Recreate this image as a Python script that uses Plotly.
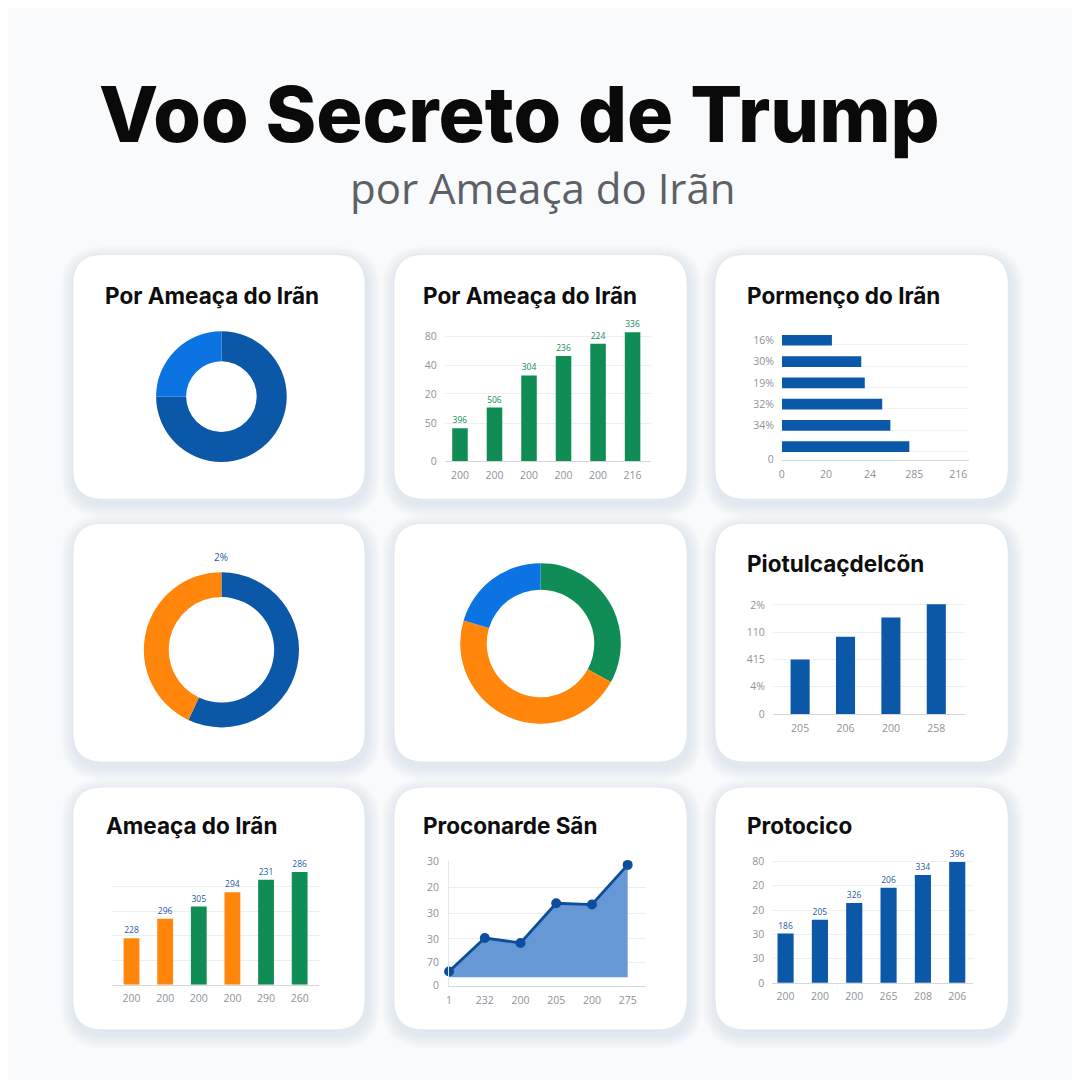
import plotly.graph_objects as go

W = H = 1080
# empirical page-to-screen compensation (body margin / viewport fit)
OFFX, SCX = 8.0, 1080.0
OFFY, SCY = 14.4, 1067.8

# ---------------- DATA ----------------
main_title = "Voo Secreto de Trump"
main_subtitle = "por Ameaça do Irãn"

card_titles = ["Por Ameaça do Irãn", "Por Ameaça do Irãn", "Pormenço do Irãn",
               "", "", "Piotulcaçdelcõn",
               "Ameaça do Irãn", "Proconarde Sãn", "Protocico"]

# Panel 1 donut
donut1_labels = ["A", "B"]
donut1_values = [75, 25]

# Panel 2 green bars
bars2_xlabels = ["200", "200", "200", "200", "200", "216"]
bars2_values = [20.9, 34.2, 54.8, 67.2, 75.1, 82.4]
bars2_text = ["396", "506", "304", "236", "224", "336"]
bars2_ytickvals = [0, 24, 43, 61, 80]
bars2_yticktext = ["0", "50", "20", "40", "80"]

# Panel 3 horizontal bars (top to bottom)
hbar3_values = [22.7, 36.0, 37.6, 45.5, 49.2, 57.8]
hbar3_ylabels = ["16%", "30%", "19%", "32%", "34%", ""]
hbar3_xtickvals = [0, 20, 40, 60, 80]
hbar3_xticktext = ["0", "20", "24", "285", "216"]

# Panel 4 donut
donut4_labels = ["A", "B"]
donut4_values = [57, 43]
donut4_label = "2%"

# Panel 5 donut
donut5_labels = ["A", "B", "C"]
donut5_values = [33, 46.6, 20.4]

# Panel 6 blue bars
bars6_xlabels = ["205", "206", "200", "258"]
bars6_values = [20.0, 28.3, 35.4, 40.3]
bars6_ytickvals = [0, 10, 20, 30, 40]
bars6_yticktext = ["0", "4%", "415", "110", "2%"]

# Panel 7 mixed bars
bars7_xlabels = ["200", "200", "200", "200", "290", "260"]
bars7_values = [38.0, 53.7, 63.7, 75.4, 85.6, 91.9]
bars7_text = ["228", "296", "305", "294", "231", "286"]
bars7_group = ["o", "o", "g", "o", "g", "g"]

# Panel 8 area
area8_xlabels = ["1", "232", "200", "205", "200", "275"]
area8_values = [2.3, 15.8, 13.8, 29.8, 29.3, 45.3]
area8_ytickvals = [-3.4, 5.8, 15.4, 25.6, 36.1, 46.6]
area8_yticktext = ["0", "70", "30", "30", "20", "30"]

# Panel 9 blue bars
bars9_xlabels = ["200", "200", "200", "265", "208", "206"]
bars9_values = [40.6, 51.9, 65.8, 78.4, 88.9, 99.6]
bars9_text = ["186", "205", "326", "206", "334", "396"]
bars9_ytickvals = [0, 20, 40, 60, 80, 100]
bars9_yticktext = ["0", "30", "30", "20", "20", "80"]

# ---------------- STYLE ----------------
DARK_BLUE = "#0b58a8"
LIGHT_BLUE = "#0b74e2"
GREEN = "#0f8d55"
ORANGE = "#ff860b"
LABEL_BLUE = "#1f58a5"
TICK = "#8e9399"
GRID = "#eceef2"
AXIS = "#d3d7dc"
FONT = "Inter"
TFONT = "Open Sans"


def fx(px):
    return (px - OFFX) / SCX


def fy(py):
    return 1 - (py - OFFY) / SCY


def rounded(x0, y0, x1, y1, r):
    pts = [
        f"M {fx(x0 + r)},{fy(y0)}",
        f"L {fx(x1 - r)},{fy(y0)}",
        f"Q {fx(x1)},{fy(y0)} {fx(x1)},{fy(y0 + r)}",
        f"L {fx(x1)},{fy(y1 - r)}",
        f"Q {fx(x1)},{fy(y1)} {fx(x1 - r)},{fy(y1)}",
        f"L {fx(x0 + r)},{fy(y1)}",
        f"Q {fx(x0)},{fy(y1)} {fx(x0)},{fy(y1 - r)}",
        f"L {fx(x0)},{fy(y0 + r)}",
        f"Q {fx(x0)},{fy(y0)} {fx(x0 + r)},{fy(y0)}",
        "Z",
    ]
    return " ".join(pts)


cards = [(70, 255, 363, 500), (392, 255, 686, 500), (714, 255, 1008, 500),
         (70, 524, 363, 763), (392, 524, 686, 763), (714, 524, 1008, 763),
         (70, 788, 363, 1031), (392, 788, 686, 1031), (714, 788, 1008, 1031)]

shapes = []
for (x0, y0, x1, y1) in cards:
    for i in range(6, 0, -1):
        e = i * 2.2
        shapes.append(dict(type="path", xref="paper", yref="paper",
                           path=rounded(x0 - e + 1, y0 - e + 5, x1 + e + 2, y1 + e + 5, 30 + e),
                           fillcolor="rgba(110,130,165,0.028)", line=dict(width=0), layer="below"))
    shapes.append(dict(type="path", xref="paper", yref="paper",
                       path=rounded(x0, y0, x1, y1, 30),
                       fillcolor="#ffffff", line=dict(color="rgba(222,226,232,0.7)", width=1),
                       layer="below"))

fig = go.Figure()


# ---- Donuts ----
def donut(values, labels, colors, cx, cy, R, hole):
    fig.add_trace(go.Pie(values=values, labels=labels, hole=hole, sort=False,
                         direction="clockwise", rotation=0,
                         marker=dict(colors=colors, line=dict(width=0)),
                         textinfo="none", hoverinfo="skip", showlegend=False,
                         domain=dict(x=[fx(cx - R), fx(cx + R)], y=[fy(cy + R), fy(cy - R)])))


donut(donut1_values, donut1_labels, [DARK_BLUE, LIGHT_BLUE], 219, 397.3, 65.5, 0.54)
donut(donut4_values, donut4_labels, [DARK_BLUE, ORANGE], 219, 650.7, 77.8, 0.68)
donut(donut5_values, donut5_labels, [GREEN, ORANGE, LIGHT_BLUE], 539, 644.3, 80.5, 0.67)

tickfont = dict(family=TFONT, size=10.5, color=TICK)
barfont = dict(family=TFONT, size=8.5)


def set_axes(n, xdom, ydom, xrange, yrange, xtv, xtt, ytv, ytt, xgrid=False, ygrid=True,
             yline=False, showy=True):
    xa = dict(domain=[fx(xdom[0]), fx(xdom[1])], range=xrange, tickmode="array",
              tickvals=xtv, ticktext=xtt, showgrid=xgrid, gridcolor=GRID, zeroline=False,
              showline=True, linecolor=AXIS, linewidth=1, ticks="", tickfont=tickfont,
              anchor=f"y{n}", fixedrange=True, ticklabelstandoff=4)
    ya = dict(domain=[fy(ydom[0]), fy(ydom[1])], range=yrange, tickmode="array",
              tickvals=ytv, ticktext=ytt, showgrid=ygrid, gridcolor=GRID, gridwidth=1,
              zeroline=False, showline=yline, linecolor="#e3e6ea", ticks="",
              tickfont=tickfont, anchor=f"x{n}", fixedrange=True, showticklabels=showy,
              ticklabelstandoff=7)
    fig.layout[f"xaxis{n}"] = xa
    fig.layout[f"yaxis{n}"] = ya


# ---- Panel 2: green bars ----
idx2 = list(range(len(bars2_values)))
fig.add_trace(go.Bar(x=idx2, y=bars2_values, text=bars2_text, textposition="outside",
                     textfont=dict(barfont, color=GREEN), marker=dict(color=GREEN, line=dict(width=0)),
                     width=0.45, cliponaxis=False, xaxis="x1", yaxis="y1", hoverinfo="skip",
                     showlegend=False))
set_axes(1, (443, 650), (461.7, 330.5), [-0.44, 5.54], [0, 84], idx2, bars2_xlabels,
         bars2_ytickvals, bars2_yticktext)

# ---- Panel 3: horizontal bars ----
pos3 = list(range(len(hbar3_values), 0, -1))
fig.add_trace(go.Bar(x=hbar3_values, y=pos3, orientation="h",
                     marker=dict(color=DARK_BLUE, line=dict(width=0)), width=0.5,
                     xaxis="x2", yaxis="y2", hoverinfo="skip", showlegend=False))
set_axes(2, (781, 969), (461, 330.3), [0, 85], [0.36, 6.5], hbar3_xtickvals, hbar3_xticktext,
         pos3 + [0.42], hbar3_ylabels + ["0"], ygrid=False)
fig.layout.yaxis2.minor = dict(tickmode="array", tickvals=[p - 0.22 for p in pos3],
                               showgrid=True, gridcolor="#f0f2f5", ticks="")

# ---- Panel 6: blue bars ----
idx6 = list(range(len(bars6_values)))
fig.add_trace(go.Bar(x=idx6, y=bars6_values, marker=dict(color=DARK_BLUE, line=dict(width=0)),
                     width=0.42, xaxis="x3", yaxis="y3", hoverinfo="skip", showlegend=False))
set_axes(3, (772, 965), (715, 601.7), [-0.6, 3.64], [0, 41.5], idx6, bars6_xlabels,
         bars6_ytickvals, bars6_yticktext)

# ---- Panel 7: mixed bars ----
idx7 = list(range(len(bars7_values)))
cols7 = [ORANGE if g == "o" else GREEN for g in bars7_group]
fig.add_trace(go.Bar(x=idx7, y=bars7_values, text=bars7_text, textposition="outside",
                     textfont=dict(barfont, color=LABEL_BLUE), marker=dict(color=cols7, line=dict(width=0)),
                     width=0.47, cliponaxis=False, xaxis="x4", yaxis="y4", hoverinfo="skip",
                     showlegend=False))
set_axes(4, (109.3, 316.7), (986, 863), [-0.58, 5.57], [0, 100], idx7, bars7_xlabels,
         [0, 20, 40, 60, 80, 100], None, showy=False)

# ---- Panel 8: area ----
idx8 = list(range(len(area8_values)))
fig.add_trace(go.Scatter(x=idx8, y=area8_values, mode="lines+markers", fill="tozeroy",
                         fillcolor="#6598d5", line=dict(color="#0d4e9c", width=2.8),
                         marker=dict(color="#0d4e9c", size=10), xaxis="x5", yaxis="y5",
                         hoverinfo="skip", showlegend=False, cliponaxis=False))
set_axes(5, (447.3, 645), (987.2, 861.7), [0, 5.52], [-3.6, 47], idx8, area8_xlabels,
         area8_ytickvals, area8_yticktext, yline=True)

# ---- Panel 9: blue bars ----
idx9 = list(range(len(bars9_values)))
fig.add_trace(go.Bar(x=idx9, y=bars9_values, text=bars9_text, textposition="outside",
                     textfont=dict(barfont, color=LABEL_BLUE), marker=dict(color=DARK_BLUE, line=dict(width=0)),
                     width=0.47, cliponaxis=False, xaxis="x6", yaxis="y6", hoverinfo="skip",
                     showlegend=False))
set_axes(6, (771.3, 972.7), (984, 861.3), [-0.39, 5.46], [0, 101], idx9, bars9_xlabels,
         bars9_ytickvals, bars9_yticktext)

# ---- Text annotations ----
ann = []
ann.append(dict(text=main_title, x=fx(518), y=fy(114), xref="paper", yref="paper",
                showarrow=False, xanchor="center", yanchor="middle",
                font=dict(family=FONT, size=77, color="#0a0a0a", weight=800)))
ann.append(dict(text=main_subtitle, x=fx(541), y=fy(188), xref="paper", yref="paper",
                showarrow=False, xanchor="center", yanchor="middle",
                font=dict(family=TFONT, size=42, color="#5d6167")))

title_pos = [(100, 296), (419, 296), (744, 296), None, None, (744, 564),
             (101, 827), (419, 827), (744, 827)]
for t, p in zip(card_titles, title_pos):
    if p is None or not t:
        continue
    ann.append(dict(text=t, x=fx(p[0]), y=fy(p[1]), xref="paper", yref="paper",
                    showarrow=False, xanchor="left", yanchor="middle",
                    font=dict(family=FONT, size=22.5, color="#0d0d0d", weight=700)))

ann.append(dict(text=donut4_label, x=fx(219), y=fy(558), xref="paper", yref="paper",
                showarrow=False, xanchor="center", yanchor="middle",
                font=dict(family=TFONT, size=10, color=LABEL_BLUE)))

fig.update_layout(width=W, height=H, margin=dict(l=0, r=0, t=0, b=0),
                  paper_bgcolor="#f9fafb", plot_bgcolor="rgba(0,0,0,0)",
                  shapes=shapes, annotations=ann, bargap=0.5, showlegend=False)

fig.write_html("out.html", config=dict(displayModeBar=False))
